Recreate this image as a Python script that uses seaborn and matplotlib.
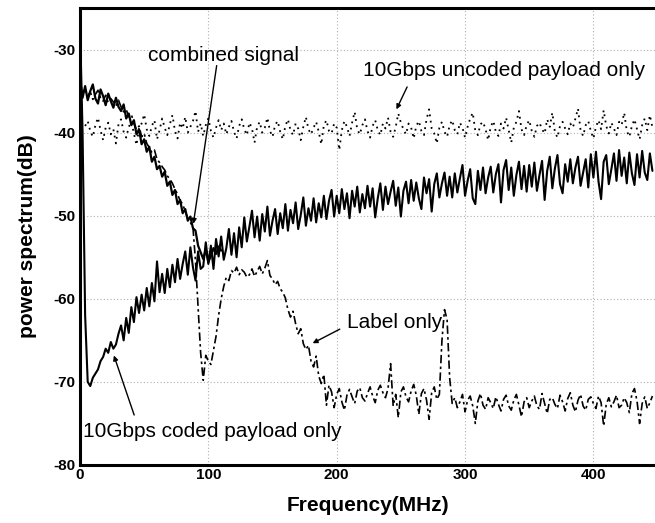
import numpy as np
import pandas as pd
import matplotlib
matplotlib.use("Agg")
import matplotlib.pyplot as plt
import seaborn as sns

# frequency grid in MHz (2 MHz step)
freq = np.arange(0, 448, 2)

# 10Gbps coded payload only (solid)
coded = [
    -27, -40, -62, -70, -70.5, -69.5, -69, -68.5, -67.5, -67, -66, -66.5, -65.2, -66, -65.5, -64.2,
    -63.2, -65, -62.3, -64.1, -61, -62.8, -59.8, -61.7, -59.5, -61.4, -58.7, -60.9, -58.1, -60.3, -55.5, -59.2,
    -57, -59.3, -56.4, -58.6, -55.9, -58, -55.2, -57.6, -55.8, -54.3, -57.1, -53.8, -56.2, -57.8, -54.3, -56.4,
    -56.1, -53.2, -55.8, -53.6, -56.4, -52.8, -54.9, -52.5, -55.3, -53.9, -51.6, -54.7, -52.1, -55, -51.4, -53.8,
    -50.2, -53.1, -51.3, -49.4, -52.6, -50.1, -53, -49.8, -51.9, -48.9, -52.4, -50.6, -49.2, -52.2, -49.7, -51.5,
    -48.6, -51.8, -49.3, -50.9, -48.4, -51.6, -49.9, -47.8, -51.2, -49.1, -50.6, -47.9, -50.8, -48.5, -50.2, -47.6,
    -50.4, -48.2, -46.9, -50.1, -47.6, -49.7, -46.8, -49.2, -47.3, -50.3, -47, -48.9, -46.5, -49.6, -47.4, -49.1,
    -46.4, -48.9, -46.7, -50.2, -47.9, -46.1, -49.3, -46.5, -48.6, -47.1, -45.8, -48.8, -46.6, -50.1, -47, -45.9,
    -48.5, -45.7, -48.2, -46, -47.9, -49.2, -45.4, -47.3, -45.6, -49.5, -46.2, -44.9, -47.8, -46.1, -44.8, -47.6,
    -45.3, -47.8, -44.9, -47.2, -45.5, -43.9, -47.6, -45.8, -44.4, -47.9, -48.6, -44.6, -46.9, -44.2, -47.3, -45.4,
    -44.1, -47.2, -45, -43.8, -48.4, -44.5, -43.3, -46.9, -44.2, -47.6, -45.1, -43.5, -46.8, -44, -47.1, -43.9,
    -46.5, -43.6, -47, -45.1, -43.4, -48.1, -44.6, -42.9, -46.7, -44.3, -42.7, -46.2, -47.3, -43.8, -45.9, -43.2,
    -46.1, -44.2, -42.9, -46.4, -44.8, -43.2, -46.6, -42.6, -45.4, -42.3, -45.9, -48, -43.5, -42.7, -46.2, -44.4,
    -42.5, -45.8, -42.1, -45.2, -43, -46.1, -42.4, -44.9, -46.3, -42.6, -45.4, -42.2, -44.8, -45.7, -42.5, -44.6,
]

# 10Gbps uncoded payload only (dotted)
uncoded = [
    np.nan, np.nan, -39.2, -38.6, -39.8, -40.5, -39.1, -38.2, -39.7, -40.9, -39.4, -38.8, -40.2, -39.6, -41.3, -39,
    -38.4, -39.9, -40.6, -39.3, -38.7, -40.1, -41.5, -39.5, -38.9, -37.8, -39.6, -40.4, -39.2, -38.5, -40.8, -39.7,
    -38.3, -39.4, -40.3, -39, -37.9, -39.8, -40.7, -38.8, -39.5, -38.1, -40, -39.3, -38.6, -37.4, -39.9, -38.9,
    -40.4, -39.1, -38.3, -39.8, -40.6, -39.4, -38.5, -39.7, -38.9, -40.2, -39.3, -38.6, -39.9, -40.7, -39.2, -38.4,
    -39.6, -40.3, -38.8, -39.5, -41.2, -39.3, -38.7, -40, -39.4, -38.2, -39.8, -40.5, -39.1, -38.6, -39.9, -40.8,
    -39.2, -38.4, -39.7, -40.3, -38.9, -39.5, -40.9, -39.3, -38.1, -39.6, -40.2, -39.4, -38.7, -39.9, -41.4, -39.1,
    -38.5, -39.8, -40.1, -38.9, -39.4, -42.1, -39.7, -38.6, -39.3, -40.4, -38.8, -37.5, -39.6, -40.2, -39.1, -38.4,
    -39.8, -40.6, -39.2, -38.5, -39.7, -40.3, -38.9, -39.5, -38.2, -39.9, -40.5, -39.3, -37.7, -38.8, -39.6, -40.2,
    -38.9, -39.4, -40.7, -39.2, -38.6, -39.8, -40.3, -38.4, -37.2, -39.5, -40.1, -41.3, -39.4, -38.7, -39.9, -40.5,
    -39.1, -38.5, -39.7, -40.2, -38.8, -39.4, -40.6, -39.3, -38.3, -37.6, -39.8, -40.3, -39, -38.7, -39.6, -40.9,
    -39.3, -38.6, -39.9, -40.4, -38.9, -39.5, -38.2, -39.7, -41.2, -39.4, -38.7, -37.4, -39.6, -40.3, -39.1, -38.5,
    -39.8, -40.5, -39.2, -38.8, -39.6, -40.1, -38.4, -39.3, -37.6, -39.9, -40.6, -39.2, -38.7, -39.5, -40.2, -38.9,
    -39.4, -38.3, -37.1, -39.7, -40.4, -39.1, -38.6, -39.8, -40.7, -39.3, -38.5, -39.6, -37.3, -39.2, -40.1, -38.8,
    -39.5, -40.3, -38.7, -39.1, -37.6, -39.8, -40.5, -39.2, -38.4, -39.6, -40.8, -39.1, -38.3, -39.7, -37.9, -39.4,
]

# Label only (dash-dot)
label = [
    -34.5, -35.2, -34.8, -35.6, -35.1, -36, -35.4, -34.9, -35.8, -36.2, -35.5, -36.4, -35.9, -36.3, -36.8, -36.1,
    -36.9, -37.5, -37.2, -38.1, -37.8, -38.9, -39.6, -39.2, -40.5, -40.1, -41.3, -41.8, -42.4, -42.1, -43.2, -43.6,
    -44.1, -44.5, -45.2, -45.6, -46.1, -46.8, -47.4, -48.2, -48.6, -49.5, -50.3, -50.8, -51.4, -55.5, -61, -66.5,
    -69.8, -66.8, -67.5, -67.9, -66.2, -64.5, -62, -60, -58.5, -57.4, -57.8, -56.6, -56.9, -56.2, -57.1, -56.5,
    -56.8, -57.4, -57.1, -56.4, -57.3, -56.7, -56.1, -57, -56.3, -55.4, -57.2, -57.6, -58.3, -57.9, -58.8, -59.2,
    -59.9, -61.3, -62.2, -61.5, -63, -64.2, -63.6, -65.4, -66.1, -65.6, -67.5, -68.2, -66.9, -69.3, -70.2, -69.1,
    -72.8, -70.4, -71.2, -73.1, -71.5, -70.8, -72.4, -73.4, -71.6, -70.9, -71.8, -72.6, -71.1, -70.7, -71.9, -72.3,
    -71.4, -70.6, -71.7, -72.5, -71, -70.4, -71.3, -71.9, -70.8, -67.8, -72.9, -71.5, -74.3, -71.2, -70.6, -71.8,
    -72.4, -71.1, -70.3, -71.6, -73.9, -71.4, -70.8, -72.2, -74.5, -71.3, -70.6, -72.1, -71.5, -65, -61.3, -62.5,
    -69.5, -72.6, -71.9, -73.1, -72.4, -71.5, -73.6, -72.2, -71.7, -72.9, -75, -72.3, -71.4, -72.8, -73.3, -71.9,
    -72.5, -73.2, -71.8, -72.7, -73.5, -72.1, -71.6, -72.9, -73.4, -72.2, -71.5, -72.8, -74.2, -72.4, -71.9, -73.1,
    -72.3, -71.7, -72.9, -73.3, -71.4, -72.6, -73.8, -72.1, -71.9, -72.7, -73.2, -71.6, -72.4, -73.5, -72, -71.3,
    -72.8, -73.6, -72.2, -71.5, -72.9, -73.4, -72.1, -71.8, -72.6, -73.2, -71.7, -72.5, -75.3, -72.7, -71.9, -73,
    -72.4, -71.6, -73.1, -72.8, -71.9, -72.5, -73.7, -71.4, -70.8, -72.3, -75, -72.6, -71.8, -73.2, -72.5, -71.7,
]

# combined signal (solid), 0-110 MHz, merges into the payload curve afterwards
combined = [
    -33.5, -35.8, -34.4, -36.1, -35, -34.2, -35.9, -36.5, -34.8, -35.6, -36.7, -35.3, -36.2, -37, -35.8, -36.9,
    -37.4, -36.6, -38.3, -37.7, -39.1, -38.5, -40.2, -39.6, -41.4, -40.8, -42.3, -41.7, -43.5, -42.9, -44.4, -44,
    -45.3, -44.7, -46.4, -45.9, -47.5, -46.9, -48.6, -48.1, -49.7, -49.2, -50.6, -50.1, -51.5, -51.8, -53.6, -54.4,
    -55.2, -54.1, -55.6, -54.8, -53.9, -54.6, -53.7, -54.2,
]

df = pd.DataFrame({"freq": freq, "coded": coded, "uncoded": uncoded, "label": label})
dfc = pd.DataFrame({"freq": freq[:len(combined)], "combined": combined})

sns.set_style("white")
plt.rcParams["font.family"] = ["Liberation Sans", "DejaVu Sans"]
plt.rcParams["axes.unicode_minus"] = False
plt.rcParams["text.color"] = "black"
plt.rcParams["axes.labelcolor"] = "black"
plt.rcParams["xtick.color"] = "black"
plt.rcParams["ytick.color"] = "black"

fig = plt.figure(figsize=(6.55, 5.23), dpi=100)
ax = fig.add_axes([80 / 655, 58 / 523, 575 / 655, 457 / 523])

sns.lineplot(data=df, x="freq", y="uncoded", ax=ax, color="black", lw=1.3,
             linestyle=(0, (1, 2.5)))
sns.lineplot(data=df, x="freq", y="label", ax=ax, color="black", lw=1.2,
             linestyle=(0, (5, 2, 1.5, 2)))
sns.lineplot(data=dfc, x="freq", y="combined", ax=ax, color="black", lw=1.6)
sns.lineplot(data=df, x="freq", y="coded", ax=ax, color="black", lw=1.5)

ax.set_xlim(0, 448)
ax.set_ylim(-80, -25)
ax.set_xticks([0, 100, 200, 300, 400])
ax.set_xticks([50, 150, 250, 350], minor=True)
ax.set_yticks([-80, -70, -60, -50, -40, -30])
ax.set_yticks([-75, -65, -55, -45, -35], minor=True)
ax.grid(True, which="major", color="#b0b0b0", linestyle=(0, (1, 2)), lw=0.8)
ax.tick_params(which="major", direction="in", length=6, width=1.8, pad=3,
               labelsize=11, colors="black")
ax.tick_params(which="minor", direction="in", length=4, width=1.5, colors="black")
ax.tick_params(axis="x", pad=2)
for lab in ax.get_xticklabels() + ax.get_yticklabels():
    lab.set_fontweight("bold")

for side in ["left", "bottom", "top"]:
    ax.spines[side].set_linewidth(2.2)
    ax.spines[side].set_color("black")
ax.spines["right"].set_visible(False)

ax.set_xlabel("Frequency(MHz)", fontsize=15, fontweight="bold", labelpad=10)
ax.set_ylabel("power spectrum(dB)", fontsize=15, fontweight="bold", labelpad=12)

arrow = dict(arrowstyle="-|>", color="black", lw=1, mutation_scale=7)
ax.text(53, -30.7, "combined signal", fontsize=15, va="center", ha="left")
ax.annotate("", xy=(88, -51.3), xytext=(106.8, -31.6), arrowprops=arrow)
ax.text(220.7, -32.5, "10Gbps uncoded payload only", fontsize=15, va="center", ha="left")
ax.annotate("", xy=(245.6, -37.5), xytext=(255.8, -34.2), arrowprops=arrow)
ax.text(208.2, -62.8, "Label only", fontsize=15, va="center", ha="left")
ax.annotate("", xy=(179.3, -65.5), xytext=(204.3, -63.5), arrowprops=arrow)
ax.text(2.3, -76.0, "10Gbps coded payload only", fontsize=15, va="center", ha="left")
ax.annotate("", xy=(25.7, -66.5), xytext=(42.9, -74.3), arrowprops=arrow)

fig.savefig("out.png", dpi=100)
